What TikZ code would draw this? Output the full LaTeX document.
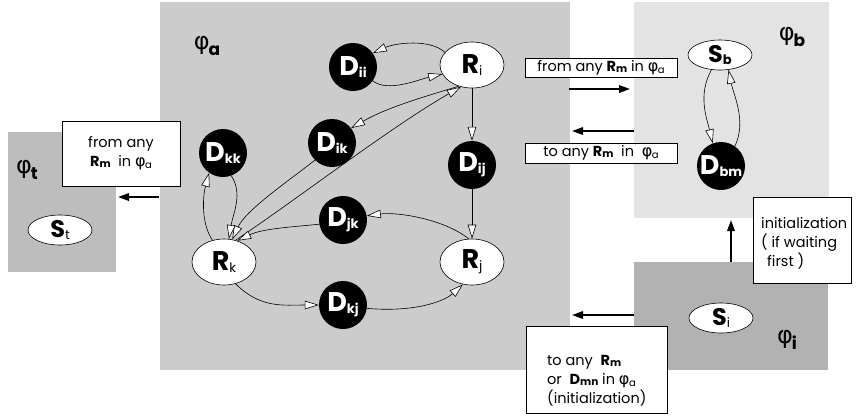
\documentclass[tikz,border=0pt]{standalone}
\usepackage{fontspec}
\setmainfont{Poppins}
\newfontfamily\grk{DejaVu Sans}
\usetikzlibrary{arrows.meta,shapes.geometric}

% region colours
\definecolor{regA}{gray}{0.80}
\definecolor{regB}{gray}{0.89}
\definecolor{regT}{gray}{0.74}
\definecolor{regI}{gray}{0.70}

% labels: bold letter with a small subscript
\newcommand\rlbl[2]{\textbf{#1}\raisebox{-2pt}{\fontsize{13}{13}\selectfont #2}}
\newcommand\blbl[2]{\textbf{#1}\raisebox{-2pt}{\fontsize{13}{13}\selectfont\bfseries #2}}
\newcommand\reglbl[1]{{\grk φ}\kern-1pt\raisebox{-6pt}{\fontsize{17}{17}\selectfont\bfseries #1}}
\newcommand\phin[1]{{\grk\fontsize{16}{16}\selectfont φ}\kern-0.5pt\raisebox{-2pt}{\fontsize{10}{10}\selectfont #1}}
\newcommand\bsub[2]{\textbf{#1}\raisebox{-1pt}{\fontsize{10.5}{10.5}\selectfont\bfseries #2}}

\begin{document}
\begin{tikzpicture}[x=1pt,y=-1pt,
  rnode/.style={ellipse, draw, fill=white, line width=0.6pt, minimum width=64pt,
    minimum height=46pt, inner sep=0pt, font=\fontsize{27}{27}\selectfont},
  snode/.style={ellipse, draw, fill=white, line width=0.6pt, minimum width=64pt,
    minimum height=30pt, inner sep=0pt, font=\fontsize{24}{24}\selectfont},
  dnode/.style={circle, fill=black, minimum size=48pt, inner sep=0pt, text=white,
    font=\fontsize{27}{27}\selectfont},
  flow/.style={line width=0.6pt, -{Triangle[length=14pt,width=8.5pt,fill=white]}},
  bigarrow/.style={line width=1.8pt, -{Triangle[length=11pt,width=7.5pt]}},
  note/.style={draw, fill=white, line width=0.8pt, inner sep=0pt,
    font=\fontsize{14.5}{19}\selectfont},
  notetext/.style={inner sep=0pt, align=left, font=\fontsize{14.5}{19}\selectfont},
  reglabel/.style={font=\fontsize{24}{24}\selectfont, inner sep=0pt}]

\useasboundingbox (0,0) rectangle (856,416);

% regions
\fill[regT] (8,132) rectangle (116,272);
\fill[regA] (160,2) rectangle (570,370);
\fill[regB] (634,2) rectangle (829,218);
\fill[regI] (634,262) rectangle (828,370);

\node[reglabel] (lt) at (27,170) {\reglbl{t}};
\node[reglabel] (la) at (207,46) {\reglbl{a}};
\node[reglabel] (lb) at (792,37) {\reglbl{b}};
\node[reglabel] (li) at (787,340) {\reglbl{i}};

% text boxes
\node[note, minimum width=118pt, minimum height=65pt, align=center] (nt) at (121,153.5)
  {from any\\ \bsub{R}{m}\ \ in \phin{a}};
\node[note, minimum width=152pt, minimum height=19pt] (nb1) at (601,67.5)
  {from any \bsub{R}{m} in \phin{a}};
\node[note, minimum width=152pt, minimum height=20pt] (nb2) at (601,153)
  {to any \bsub{R}{m}\ \ in\ \ \phin{a}};
\node[note, minimum width=98pt, minimum height=86pt] (ni) at (802,240) {};
\node[notetext, anchor=west] (nitext) at (761,243)
  {initialization\\( if waiting\\\hspace*{6pt}first )};
\node[note, minimum width=141pt, minimum height=87pt] (na) at (596.5,369.5) {};
\node[notetext, anchor=west] (natext) at (547,381)
  {to any \ \bsub{R}{m}\\or \ \bsub{D}{mn} in \phin{a}\\(initialization)};

% states of region a
\node[rnode] (Ri) at (472,65) {\rlbl{R}{i}};
\node[rnode] (Rk) at (224,262) {\rlbl{R}{k}};
\node[rnode] (Rj) at (472,262) {\rlbl{R}{j}};
\node[dnode] (Dii) at (353,67) {\blbl{D}{ii}};
\node[dnode] (Dik) at (332,143) {\blbl{D}{ik}};
\node[dnode] (Dkk) at (223,153) {\blbl{D}{kk}};
\node[dnode] (Dij) at (472,165) {\blbl{D}{ij}};
\node[dnode] (Djk) at (343,220) {\blbl{D}{jk}};
\node[dnode] (Dkj) at (343,305) {\blbl{D}{kj}};

% states of regions b, t, i
\node[snode] (Sb) at (720,55) {\blbl{S}{b}};
\node[dnode] (Dbm) at (721,166) {\blbl{D}{bm}};
\node[snode] (St) at (60,230) {\rlbl{S}{t}};
\node[snode] (Si) at (721,318) {\rlbl{S}{i}};

% transitions in region a
\draw[flow] (Ri.155) .. controls +(-15,-14) and +(22,-10) .. (Dii.35);
\draw[flow] (Dii.-35) .. controls +(15,12) and +(-22,5) .. (Ri.197);
\draw[flow] (Ri.238) .. controls +(-40,12) and +(35,-20) .. (Dik.38);
\draw[flow] (Rk.62) .. controls +(60,-40) and +(-70,40) .. (Ri.243);
\draw[flow] (Dik.225) .. controls +(-25,20) and +(14,-30) .. (Rk.70);
\draw[flow] (Dkk.-70) .. controls +(12,18) and +(4,-25) .. (Rk.78);
\draw[flow] (Rk.118) .. controls +(-12,-18) and +(-6,22) .. (Dkk.235);
\draw[flow] (Ri) -- (Dij);
\draw[flow] (Dij) -- (Rj);
\draw[flow] (Rj.98) .. controls +(-25,-20) and +(30,-4) .. (Djk.10);
\draw[flow] (Djk.190) .. controls +(-30,3) and +(25,-12) .. (Rk.58);
\draw[flow] (Rk.-62) .. controls +(25,25) and +(-35,0) .. (Dkj.180);
\draw[flow] (Dkj.-8) .. controls +(45,4) and +(-20,18) .. (Rj.-112);

% transitions in region b
\draw[flow] (Sb.240) .. controls +(-14,25) and +(-6,-25) .. (Dbm.110);
\draw[flow] (Dbm.55) .. controls +(12,-25) and +(5,25) .. (Sb.-60);

% moves between regions
\coordinate (tA) at (159,197);
\coordinate (tB) at (118,197);
\coordinate (b1A) at (569,89);
\coordinate (b1B) at (630,89);
\coordinate (b2A) at (634,131);
\coordinate (b2B) at (572,131);
\coordinate (iA) at (731,262);
\coordinate (iB) at (731,220);
\coordinate (i2A) at (634,315);
\coordinate (i2B) at (572,315);
\draw[bigarrow] (tA) -- (tB);
\draw[bigarrow] (b1A) -- (b1B);
\draw[bigarrow] (b2A) -- (b2B);
\draw[bigarrow] (iA) -- (iB);
\draw[bigarrow] (i2A) -- (i2B);
\end{tikzpicture}
\end{document}
